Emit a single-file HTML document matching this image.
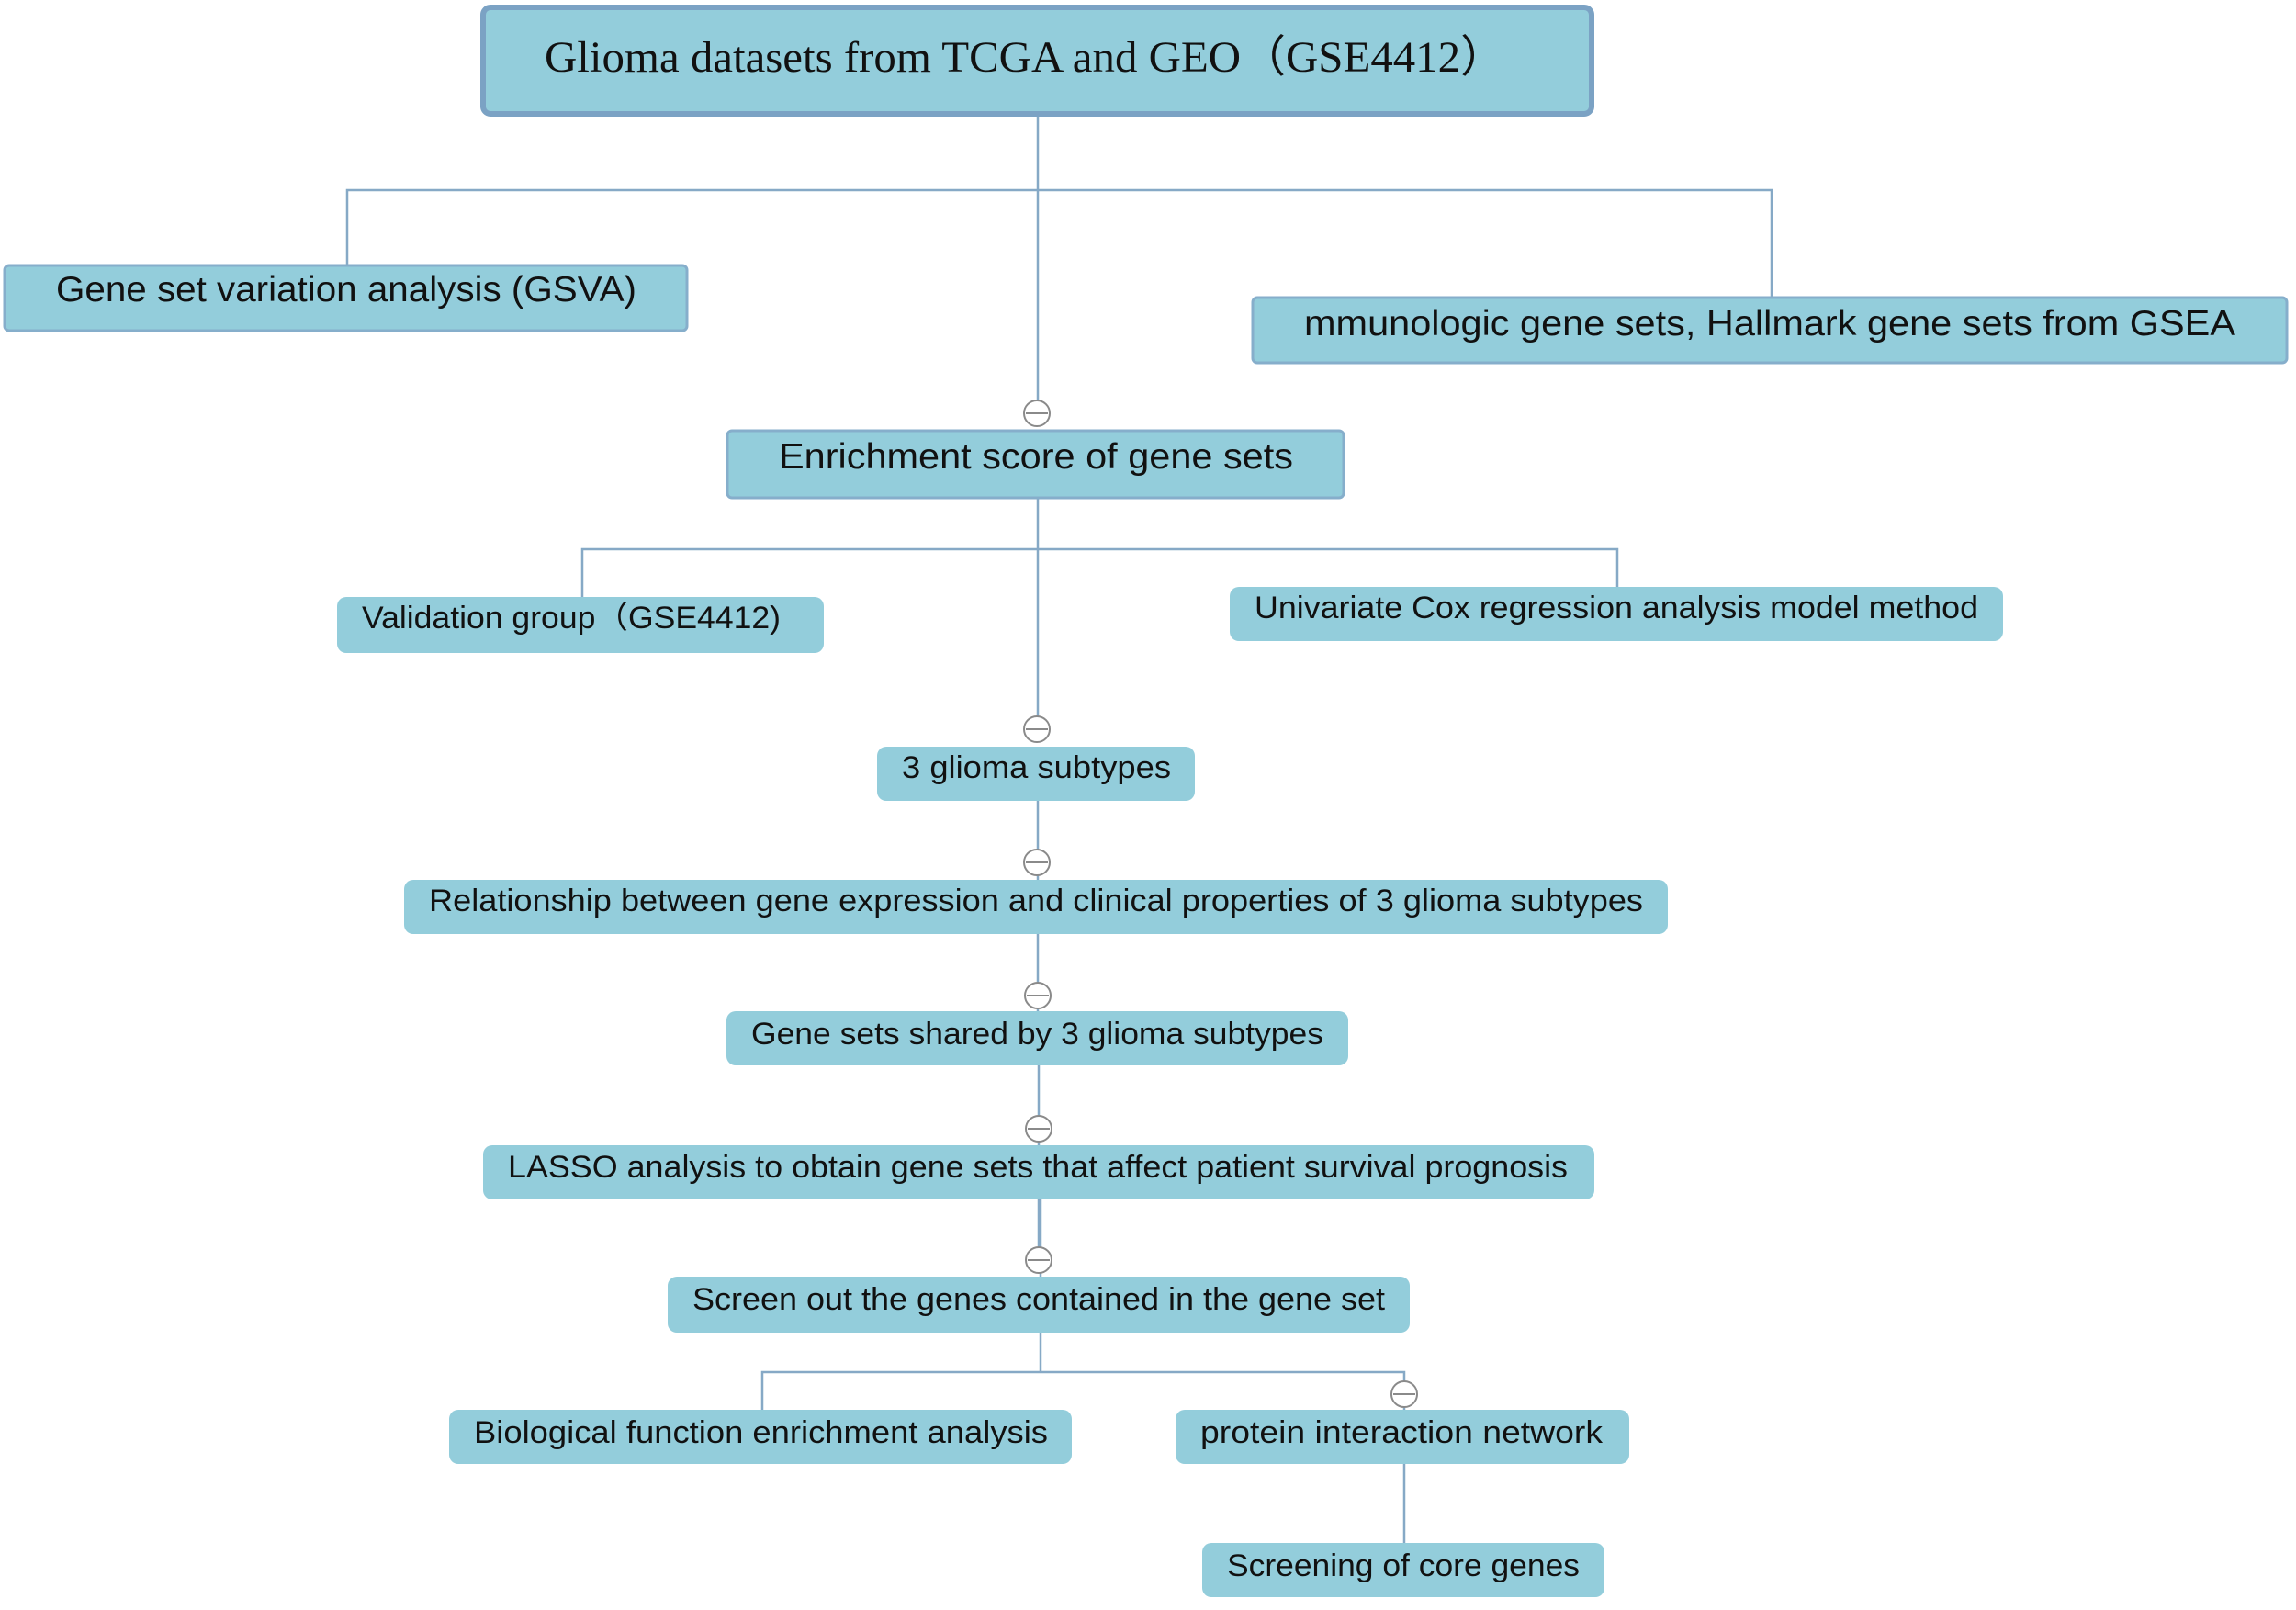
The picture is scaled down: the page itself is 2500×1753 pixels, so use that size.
<!DOCTYPE html>
<html><head><meta charset="utf-8"><style>html,body{margin:0;padding:0;background:#fff}svg{display:block}</style></head>
<body>
<svg width="2500" height="1753" viewBox="0 0 2500 1753" xmlns="http://www.w3.org/2000/svg">
<g stroke="#86a9c6" stroke-width="2.5" fill="none">
<path d="M1130 124V450M378 290V207H1929V324"/>
<path d="M1130 542V794M634 650V598H1761V639"/>
<path d="M1130 872V1101M1131 1160V1372M1133 1306V1390"/>
<path d="M1133 1451V1494M830 1535V1494H1529V1535M1529 1594V1680"/>
</g>
<g fill="#93cddb">
<rect x="526" y="8" width="1207" height="116" rx="8" stroke="#7ba2c4" stroke-width="6"/>
<rect x="5" y="289" width="743" height="71" rx="5" stroke="#86aecb" stroke-width="3"/>
<rect x="1364" y="324" width="1126" height="71" rx="5" stroke="#86aecb" stroke-width="3"/>
<rect x="792" y="469" width="671" height="73" rx="5" stroke="#86aecb" stroke-width="3"/>
<rect x="367" y="650" width="530" height="61" rx="10"/>
<rect x="1339" y="639" width="842" height="59" rx="10"/>
<rect x="955" y="813" width="346" height="59" rx="10"/>
<rect x="440" y="958" width="1376" height="59" rx="10"/>
<rect x="791" y="1101" width="677" height="59" rx="10"/>
<rect x="526" y="1247" width="1210" height="59" rx="10"/>
<rect x="727" y="1390" width="808" height="61" rx="10"/>
<rect x="489" y="1535" width="678" height="59" rx="10"/>
<rect x="1280" y="1535" width="494" height="59" rx="10"/>
<rect x="1309" y="1680" width="438" height="59" rx="10"/>
</g>
<g fill="#fff" stroke="#8a8a8a" stroke-width="2">
<circle cx="1129" cy="450" r="14"/><circle cx="1129" cy="794" r="14"/><circle cx="1129" cy="939" r="14"/>
<circle cx="1130" cy="1084" r="14"/><circle cx="1131" cy="1229" r="14"/><circle cx="1131" cy="1372" r="14"/>
<circle cx="1529" cy="1518" r="14"/>
</g>
<g stroke="#8a8a8a" stroke-width="2">
<path d="M1117 450h24M1117 794h24M1117 939h24M1118 1084h24M1119 1229h24M1119 1372h24M1517 1518h24"/>
</g>
<g font-family="'Liberation Sans', sans-serif" fill="#111" lengthAdjust="spacingAndGlyphs">
<text x="593" y="78" font-family="'Liberation Serif', serif" font-size="48" textLength="1046" lengthAdjust="spacingAndGlyphs">Glioma datasets from TCGA and GEO（GSE4412）</text>
<text x="61" y="328" font-size="39" textLength="632" lengthAdjust="spacingAndGlyphs">Gene set variation analysis (GSVA)</text>
<text x="1420" y="365" font-size="39" textLength="1014" lengthAdjust="spacingAndGlyphs">mmunologic gene sets, Hallmark gene sets from GSEA</text>
<text x="848" y="510" font-size="39" textLength="560" lengthAdjust="spacingAndGlyphs">Enrichment score of gene sets</text>
<text x="394" y="684" font-size="34" textLength="456" lengthAdjust="spacingAndGlyphs">Validation group（GSE4412)</text>
<text x="1366" y="673" font-size="34" textLength="788" lengthAdjust="spacingAndGlyphs">Univariate Cox regression analysis model method</text>
<text x="982" y="847" font-size="34" textLength="293" lengthAdjust="spacingAndGlyphs">3 glioma subtypes</text>
<text x="467" y="992" font-size="34" textLength="1322" lengthAdjust="spacingAndGlyphs">Relationship between gene expression and clinical properties of 3 glioma subtypes</text>
<text x="818" y="1137" font-size="34" textLength="623" lengthAdjust="spacingAndGlyphs">Gene sets shared by 3 glioma subtypes</text>
<text x="553" y="1282" font-size="34" textLength="1154" lengthAdjust="spacingAndGlyphs">LASSO analysis to obtain gene sets that affect patient survival prognosis</text>
<text x="754" y="1426" font-size="34" textLength="754" lengthAdjust="spacingAndGlyphs">Screen out the genes contained in the gene set</text>
<text x="516" y="1571" font-size="34" textLength="625" lengthAdjust="spacingAndGlyphs">Biological function enrichment analysis</text>
<text x="1307" y="1571" font-size="34" textLength="438" lengthAdjust="spacingAndGlyphs">protein interaction network</text>
<text x="1336" y="1716" font-size="34" textLength="384" lengthAdjust="spacingAndGlyphs">Screening of core genes</text>
</g>
</svg>
</body></html>
